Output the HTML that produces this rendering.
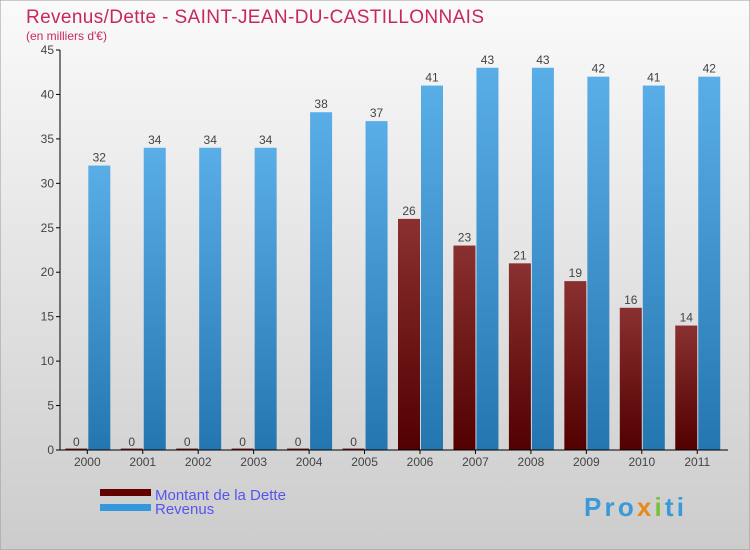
<!DOCTYPE html>
<html><head><meta charset="utf-8"><style>
body{margin:0}
svg{display:block;font-family:"Liberation Sans",sans-serif}
</style></head><body>
<svg id="c" width="750" height="550" xmlns="http://www.w3.org/2000/svg">
<defs>
<linearGradient id="bg" x1="0" y1="0" x2="0" y2="1"><stop offset="0" stop-color="#fafafa"/><stop offset="1" stop-color="#cccccc"/></linearGradient>
<linearGradient id="gb" x1="0" y1="0" x2="0" y2="1"><stop offset="0" stop-color="#5aaee8"/><stop offset="1" stop-color="#2476b0"/></linearGradient>
<linearGradient id="gd" x1="0" y1="0" x2="0" y2="1"><stop offset="0" stop-color="#8a3030"/><stop offset="1" stop-color="#520000"/></linearGradient>
</defs>
<rect width="750" height="550" fill="url(#bg)" stroke="#999"/>
<text x="26" y="23" font-size="19" fill="#c8285a" textLength="458">Revenus/Dette - SAINT-JEAN-DU-CASTILLONNAIS</text>
<text x="26" y="40" font-size="12" fill="#c8285a">(en milliers d'€)</text>
<g id="plot"></g>
<g>
<rect x="100" y="489" width="51" height="7" fill="#620000"/>
<text x="155" y="500" font-size="15" fill="#5555ee">Montant de la Dette</text>
<rect x="100" y="504" width="51" height="7" fill="#3498dc"/>
<text x="155" y="514" font-size="15" fill="#5555ee">Revenus</text>
</g>
<text x="584" y="516" font-size="26" font-weight="bold" fill="#3a9ad8" textLength="100">Pro<tspan fill="#e88a1a">x</tspan><tspan fill="#7cc03a">i</tspan>ti</text>
</svg>
<script>
const years=["2000","2001","2002","2003","2004","2005","2006","2007","2008","2009","2010","2011"];
const debt=[0,0,0,0,0,0,26,23,21,19,16,14];
const revenue=[32,34,34,34,38,37,41,43,43,42,41,42];
const yTicks=[0,5,10,15,20,25,30,35,40,45];
const NS="http://www.w3.org/2000/svg";
const g=document.getElementById('plot');
const y0=450,yTop=50,yMax=45,x0=60,step=55.45,c0=87.3,bw=22;
const Y=v=>y0-v/yMax*(y0-yTop);
const X=i=>c0+i*step;
function mk(t,a){const e=document.createElementNS(NS,t);for(const k in a)e.setAttribute(k,a[k]);g.appendChild(e);return e;}
let e;
yTicks.forEach(v=>{
 e=mk('line',{x1:x0-4,x2:x0,y1:Y(v),y2:Y(v),stroke:'#000'});
 
 
 e=mk('text',{x:x0-6,y:Y(v)+4,'font-size':12,'text-anchor':'end',fill:'#444'});e.textContent=v;
 
 
});
years.forEach((yr,i)=>{
 const c=X(i);
 const hd=Math.max(Y(0)-Y(debt[i]),1.5);
 e=mk('rect',{x:c-bw,y:Y(0)-hd,width:bw,height:hd,fill:'url(#gd)'});
 
 
 e=mk('text',{x:c-bw/2,y:Y(debt[i])-4,'font-size':12,'text-anchor':'middle',fill:'#444'});e.textContent=debt[i];
 
 
 e=mk('rect',{x:c+1,y:Y(revenue[i]),width:bw,height:Y(0)-Y(revenue[i]),fill:'url(#gb)'});
 
 
 e=mk('text',{x:c+1+bw/2,y:Y(revenue[i])-4,'font-size':12,'text-anchor':'middle',fill:'#444'});e.textContent=revenue[i];
 
 
 e=mk('line',{x1:c,x2:c,y1:y0,y2:y0+4,stroke:'#000'});
 
 
 e=mk('text',{x:c,y:y0+16,'font-size':12,'text-anchor':'middle',fill:'#444'});e.textContent=yr;
 
 
});
e=mk('line',{x1:x0,x2:x0,y1:yTop,y2:y0,stroke:'#000'});


e=mk('line',{x1:x0,x2:728,y1:y0,y2:y0,stroke:'#000'});


</script>
</body></html>
